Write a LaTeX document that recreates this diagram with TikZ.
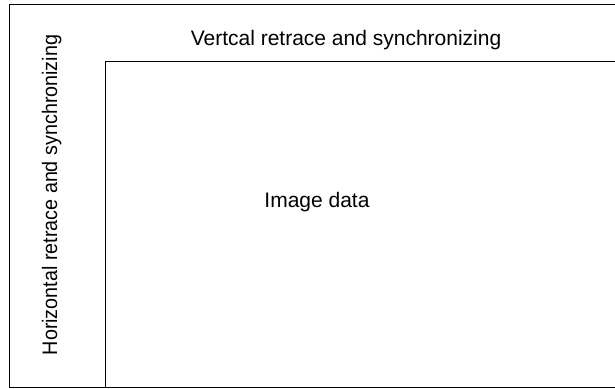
\documentclass[tikz,border=0pt]{standalone}
\usepackage{fontspec}
\setmainfont{Liberation Sans}
\begin{document}
\begin{tikzpicture}[x=1pt,y=-1pt,
  frame/.style={line width=1pt,black},
  lbl/.style={font=\fontsize{21}{25}\selectfont,inner sep=0pt,anchor=base}]
\useasboundingbox (0,0) rectangle (615,388);
\clip (0,0) rectangle (615,388);
% outer frame
\draw[frame] (640,4) -- (9,4) -- (9,387) -- (640,387);
% inner image area
\draw[frame] (105,387) -- (105,61) -- (640,61);
\node[lbl] (vert) at (346,45) {Vertcal retrace and synchronizing};
\node[lbl,rotate=90,xscale=0.94] (horiz) at (57,195) {Horizontal retrace and synchronizing};
\node[lbl] (img) at (317,207) {Image data};
\end{tikzpicture}
\end{document}
